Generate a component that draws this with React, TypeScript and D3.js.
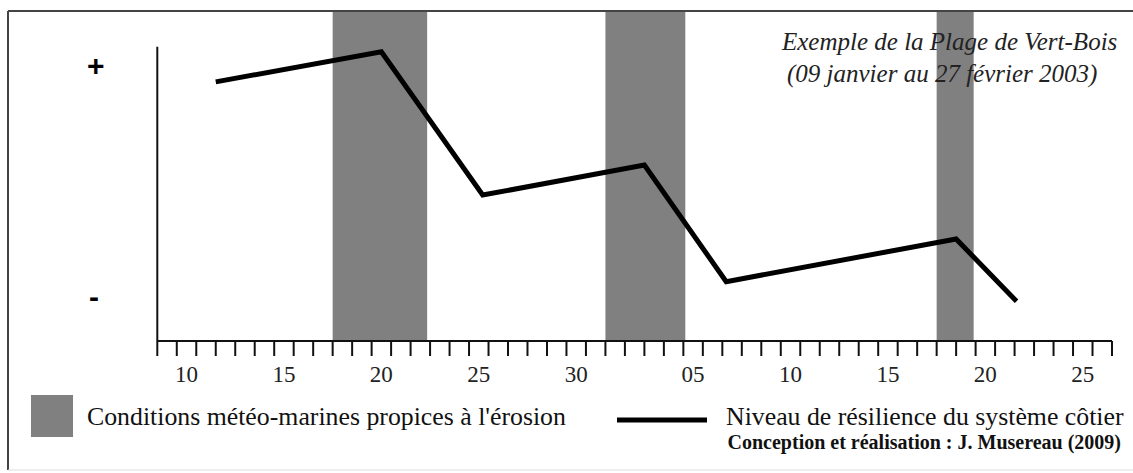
import React from "react";
import * as d3 from "d3";

// Days counted from 9 January 2003 (index 0 = 9 Jan)
const dayCount = 49;
const tickLabels = ["10", "15", "20", "25", "30", "05", "10", "15", "20", "25"];
const tickLabelDays = [1, 6, 11, 16, 21, 27, 32, 37, 42, 47];

// Shaded periods: weather/sea conditions favourable to erosion
const erosionStart = [9, 23, 40];
const erosionEnd = [13.85, 27.1, 41.9];

// Resilience level of the coastal system (0 = "-", 1 = "+")
const resilienceDays = [3, 11.5, 16.7, 25, 29.2, 41, 44.1];
const resilienceLevel = [0.93, 1.06, 0.44, 0.57, 0.065, 0.25, -0.02];

const titleLines = ["Exemple de la Plage de Vert-Bois", "(09 janvier au 27 février 2003)"];
const legendLabels = ["Conditions météo-marines propices à l'érosion", "Niveau de résilience du système côtier"];
const credit = "Conception et réalisation : J. Musereau (2009)";

const W = 1133;
const H = 473;

export default function App() {
  const x = d3.scaleLinear().domain([0, dayCount]).range([157.3, 1112]);
  const y = d3.scaleLinear().domain([0, 1]).range([296.7, 65.7]);
  const axisY = 341;
  const frameTop = 11;

  const pts: [number, number][] = resilienceDays.map((d, i) => [d, resilienceLevel[i]]);
  const line = d3
    .line<[number, number]>()
    .x((p) => x(p[0]))
    .y((p) => y(p[1]));

  const serif = "Liberation Serif, Times New Roman, serif";

  return (
    <svg
      width={W}
      height={H}
      style={{ position: "absolute", left: 0, top: 0, background: "#fff" }}
    >
      {/* frame */}
      <line x1={8} y1={frameTop} x2={W} y2={frameTop} stroke="#444" strokeWidth={2} />
      <line x1={8} y1={frameTop} x2={8} y2={470} stroke="#444" strokeWidth={2} />
      <line x1={8} y1={470} x2={W} y2={470} stroke="#ddd" strokeWidth={1} />

      {/* erosion periods */}
      {erosionStart.map((s, i) => (
        <rect
          key={i}
          x={x(s)}
          y={frameTop + 1}
          width={x(erosionEnd[i]) - x(s)}
          height={axisY - frameTop - 1}
          fill="#808080"
        />
      ))}

      {/* y axis */}
      <line x1={x(0)} y1={46.7} x2={x(0)} y2={axisY} stroke="#111" strokeWidth={2} />
      <text x={95.7} y={y(1)} textAnchor="middle" dominantBaseline="central" fontFamily="Liberation Sans, Arial, sans-serif" fontWeight="bold" fontSize={30}>+</text>
      <text x={94} y={y(0)} textAnchor="middle" dominantBaseline="central" fontFamily="Liberation Sans, Arial, sans-serif" fontWeight="bold" fontSize={30}>-</text>

      {/* x axis */}
      <line x1={x(0)} y1={axisY} x2={x(dayCount)} y2={axisY} stroke="#111" strokeWidth={2} />
      {d3.range(0, dayCount + 1).map((d) => (
        <line key={d} x1={x(d)} y1={axisY} x2={x(d)} y2={axisY + 15} stroke="#111" strokeWidth={2} />
      ))}
      {tickLabels.map((t, i) => (
        <text key={i} x={x(tickLabelDays[i] + 0.5)} y={382} textAnchor="middle" fontFamily={serif} fontSize={23} fill="#222">
          {t}
        </text>
      ))}

      {/* resilience line */}
      <path d={line(pts) || ""} fill="none" stroke="#000" strokeWidth={5} strokeLinejoin="miter" />

      {/* title */}
      <text x={782} y={50} fontFamily={serif} fontStyle="italic" fontSize={25} fill="#222">{titleLines[0]}</text>
      <text x={787} y={82} fontFamily={serif} fontStyle="italic" fontSize={25} fill="#222">{titleLines[1]}</text>

      {/* legend */}
      <rect x={31} y={395} width={42} height={42} fill="#808080" />
      <text x={87} y={425} fontFamily={serif} fontSize={25.8} fill="#111">{legendLabels[0]}</text>
      <line x1={617} y1={420} x2={707} y2={420} stroke="#000" strokeWidth={5} />
      <text x={726} y={425} fontFamily={serif} fontSize={25.8} fill="#111">{legendLabels[1]}</text>
      <text x={1121} y={449} textAnchor="end" fontFamily={serif} fontWeight="bold" fontSize={20} fill="#111">{credit}</text>
    </svg>
  );
}
